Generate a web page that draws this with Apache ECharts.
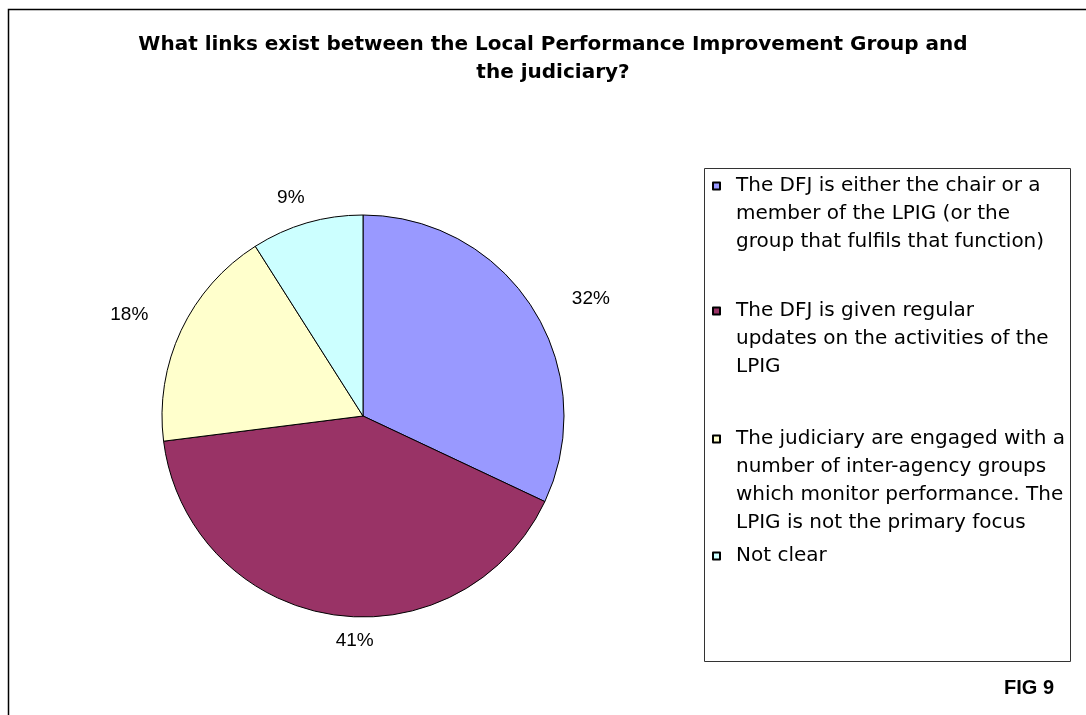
<!DOCTYPE html>
<html>
<head>
<meta charset="utf-8">
<title>FIG 9 – Links between the LPIG and the judiciary</title>
<script src="https://cdn.jsdelivr.net/npm/echarts@6/dist/echarts.min.js"></script>
<style>
  html, body { margin: 0; padding: 0; background: #fff; }
  #chart { width: 1086px; height: 715px; }
</style>
</head>
<body>
<div id="chart"></div>
<script>
// Survey responses: how the LPIG is linked to the judiciary (percent of areas)
const categories = [
  'The DFJ is either the chair or a\nmember of the LPIG (or the\ngroup that fulfils that function)',
  'The DFJ is given regular\nupdates on the activities of the\nLPIG',
  'The judiciary are engaged with a\nnumber of inter-agency groups\nwhich monitor performance. The\nLPIG is not the primary focus',
  'Not clear'
];
const shares = [32, 41, 18, 9];
const sliceColors = ['#9999FF', '#993366', '#FFFFCC', '#CCFFFF'];

const titleLines = [
  'What links exist between the Local Performance Improvement Group and',
  'the judiciary?'
];
const figureTag = 'FIG 9';

const FONT = '"Liberation Sans", Arial, Helvetica, sans-serif';
const WIDE_FONT = '"DejaVu Sans", Verdana, sans-serif';
const LEGEND_LH = 28;
// vertical centre of each legend entry's first line
const legendRowY = [186, 311, 439, 556];
// small shifts that keep the percentage labels clear of the pie edge
const labelNudge = [[24, -3], [49, 14], [-17, -11], [6, -14]];

const chart = echarts.init(document.getElementById('chart'), null, { renderer: 'canvas' });

// One legend block per entry. The legend centres its text on the swatch, so
// blank lines are put in front of the text to bring the first line level with it.
const legends = categories.map((name, i) => {
  const lines = name.split('\n').length;
  return {
    data: [name],
    orient: 'vertical',
    left: 712,
    top: legendRowY[i] - (2 * lines - 1) * LEGEND_LH / 2,
    padding: 0,
    itemWidth: 7,
    itemHeight: 7,
    icon: 'rect',
    selectedMode: false,
    formatter: (n) => '\n'.repeat(lines - 1) + n,
    textStyle: {
      fontFamily: WIDE_FONT,
      fontSize: 20,
      color: '#000',
      lineHeight: LEGEND_LH,
      padding: [0, 0, 0, 11]
    }
  };
});

const option = {
  animation: false,
  backgroundColor: '#fff',
  title: {
    text: titleLines.join('\n'),
    left: 548,
    textAlign: 'center',
    top: 26,
    textStyle: {
      fontFamily: WIDE_FONT,
      fontSize: 20,
      fontWeight: 'bold',
      color: '#000',
      lineHeight: 28
    }
  },
  legend: legends,
  graphic: [
    // chart area frame (runs off the right and bottom of the page)
    {
      type: 'rect',
      shape: { x: 8.5, y: 9.5, width: 1200, height: 800 },
      style: { fill: null, stroke: '#000', lineWidth: 1.5 },
      silent: true
    },
    // legend box
    {
      type: 'rect',
      shape: { x: 704.5, y: 168.5, width: 366, height: 493 },
      style: { fill: null, stroke: '#333', lineWidth: 1 },
      silent: true,
      z: -1
    },
    {
      type: 'text',
      left: 1004,
      top: 678,
      style: {
        text: figureTag,
        font: 'bold 20px ' + FONT,
        fill: '#000'
      }
    }
  ],
  series: [{
    type: 'pie',
    center: [363, 416],
    radius: 201,
    startAngle: 90,
    clockwise: true,
    avoidLabelOverlap: false,
    data: categories.map((name, i) => ({
      name: name,
      value: shares[i],
      itemStyle: { color: sliceColors[i] }
    })),
    itemStyle: { borderColor: '#000', borderWidth: 1 },
    emphasis: { disabled: true },
    label: {
      show: true,
      position: 'outside',
      formatter: '{c}%',
      fontFamily: FONT,
      fontSize: 19,
      color: '#000'
    },
    labelLine: { show: false, length: 12, length2: 0 },
    labelLayout: (p) => ({ dx: labelNudge[p.dataIndex][0], dy: labelNudge[p.dataIndex][1] })
  }]
};

chart.setOption(option);
</script>
</body>
</html>
